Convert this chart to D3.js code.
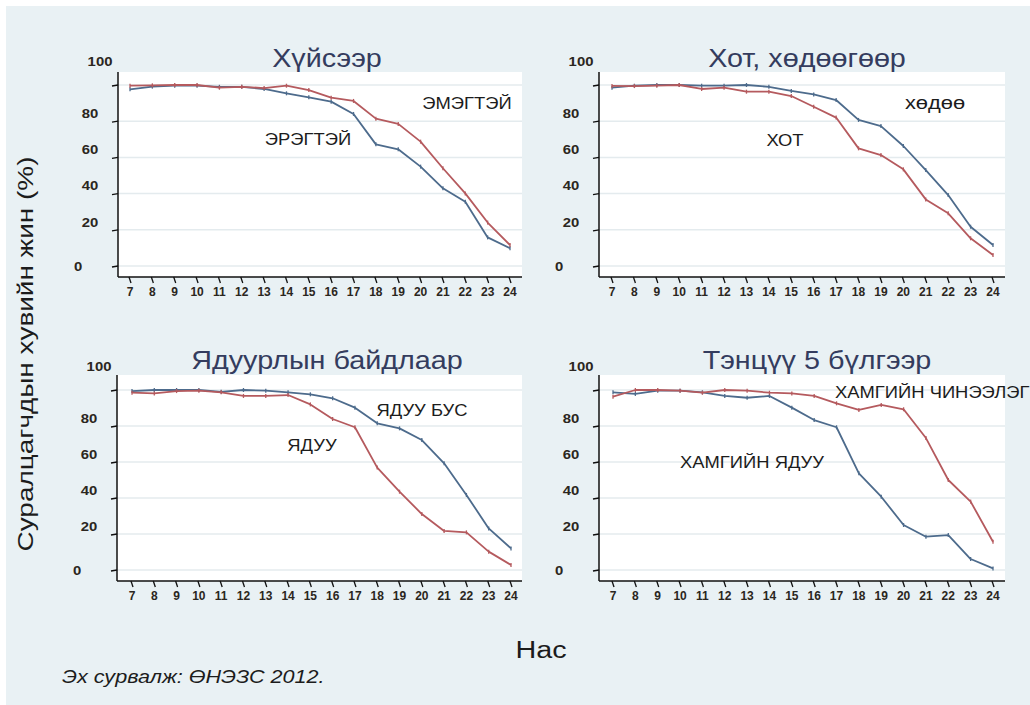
<!DOCTYPE html>
<html>
<head>
<meta charset="utf-8">
<script src="https://cdn.jsdelivr.net/npm/d3@7"></script>
<style>
  body { margin: 0; background: #fff; }
  svg { display: block; font-family: "Liberation Sans", Arial, sans-serif; }
</style>
</head>
<body>
<svg id="chart" width="1030" height="705"></svg>
<script>
const ages = [7, 8, 9, 10, 11, 12, 13, 14, 15, 16, 17, 18, 19, 20, 21, 22, 23, 24];
const yTicks = [0, 20, 40, 60, 80, 100];

const titles = ["Хүйсээр", "Хот, хөдөөгөөр", "Ядуурлын байдлаар", "Тэнцүү 5 бүлгээр"];

// sex
const male = [97.6, 99.1, 99.6, 99.6, 99, 99, 97.8, 95.4, 93.2, 90.8, 84, 67.2, 64.5, 54.9, 42.9, 35.5, 15.8, 9.8];
const female = [99.6, 99.8, 100, 100, 98.5, 99, 98.3, 99.6, 97.2, 93, 91.2, 81.4, 78.5, 68.7, 54, 40.1, 24, 11.6];
// urban / rural
const rural = [98.5, 99.6, 100, 100, 99.6, 99.6, 100, 99, 96.7, 94.8, 91.7, 80.7, 77.3, 66.3, 53, 39.2, 21.7, 11.6];
const urban = [99.5, 99.4, 99.6, 100, 97.8, 98.5, 96.3, 96.3, 93.9, 88, 82, 65, 61.3, 53.4, 36.8, 29.1, 15.3, 6.1];
// poverty
const nonPoor = [99.4, 100, 100, 100, 99, 100, 99.6, 98.7, 97.6, 95.4, 90.2, 81.5, 78.7, 72.2, 59.3, 41.7, 23.1, 12];
const poor = [98.5, 98.1, 99.4, 99.6, 98.7, 96.7, 96.7, 97.2, 92, 83.9, 79.3, 56.9, 43.5, 31.1, 21.7, 20.9, 10.2, 2.8];
// quintiles
const poorest = [98.7, 97.8, 99.6, 99.6, 98.7, 96.7, 95.7, 96.7, 90.2, 83.3, 79.3, 53.7, 40.7, 25, 18.5, 19.4, 6.1, 0.9];
const richest = [96.3, 100, 100, 99.6, 98.5, 100, 99.6, 98.5, 98.1, 96.7, 92.6, 88.9, 91.7, 89.3, 73.3, 50, 38, 15.7];

const seriesNames = [
  ["ЭРЭГТЭЙ", "ЭМЭГТЭЙ"],
  ["хөдөө", "ХОТ"],
  ["ЯДУУ БУС", "ЯДУУ"],
  ["ХАМГИЙН ЯДУУ", "ХАМГИЙН ЧИНЭЭЛЭГ"],
];
const seriesValues = [
  [male, female],
  [rural, urban],
  [nonPoor, poor],
  [poorest, richest],
];

const blue = "#4d6b8c";
const red = "#b55a5e";
const stretch = 1.15; // the source picture is a bit wider than tall

// layout of each panel (white plot box, x range for ages, y range for 0..100)
const panels = [
  { box: [118, 72, 522, 277], xr: [130, 510], yr: [266, 85], title: [327, 59],
    labels: [[308, 139, 16, "middle"], [467, 103, 16, "middle"]] },
  { box: [599, 72, 1005, 277], xr: [612, 993], yr: [266, 85], title: [807, 59],
    labels: [[935, 102, 19, "middle"], [785, 140, 16, "middle"]] },
  { box: [117, 375, 522, 581], xr: [132, 511], yr: [570, 390], title: [327, 361],
    labels: [[422, 410, 16, "middle"], [312, 445, 16, "middle"]] },
  { box: [599, 375, 1005, 581], xr: [613, 993], yr: [570, 390], title: [817, 361],
    labels: [[752, 462, 16, "middle"], [835, 392, 16, "start"]] },
];

const svg = d3.select("#chart");

const stretchedText = (sel, x, y, sx) =>
  sel.attr("transform", `translate(${x}, ${y}) scale(${sx}, 1)`);

svg.append("rect")
  .attr("x", 6).attr("y", 6)
  .attr("width", 1030).attr("height", 705)
  .attr("fill", "#e9f1f4");

panels.forEach((p, k) => {
  const [bx0, by0, bx1, by1] = p.box;
  const x = d3.scaleLinear().domain([7, 24]).range(p.xr);
  const y = d3.scaleLinear().domain([0, 100]).range(p.yr);
  const g = svg.append("g");

  // plot area
  g.append("rect")
    .attr("x", bx0).attr("y", by0)
    .attr("width", bx1 - bx0).attr("height", by1 - by0)
    .attr("fill", "#ffffff");

  // grid
  g.selectAll(".grid")
    .data(yTicks)
    .enter()
    .append("line")
    .attr("x1", bx0).attr("x2", bx1)
    .attr("y1", (d) => y(d)).attr("y2", (d) => y(d))
    .attr("stroke", "#e4ebee")
    .attr("stroke-width", 1.5);

  // y-axis
  g.append("line")
    .attr("x1", bx0).attr("x2", bx0)
    .attr("y1", by0).attr("y2", by1)
    .attr("stroke", "#111").attr("stroke-width", 1.5);

  g.selectAll(".ytick")
    .data(yTicks)
    .enter()
    .append("line")
    .attr("x1", bx0 - 6).attr("x2", bx0)
    .attr("y1", (d) => y(d) + 1).attr("y2", (d) => y(d))
    .attr("stroke", "#111").attr("stroke-width", 1.3);

  // labels sit above their gridlines in the source, except 0
  g.selectAll(".ylabel")
    .data(yTicks)
    .enter()
    .append("text")
    .each(function (d) {
      const lx = bx0 - (d === 100 ? 18 : d === 0 ? 40 : 28);
      const ly = y(d) + (d === 100 ? -24 : d === 0 ? 0 : -8);
      stretchedText(d3.select(this), lx, ly, 1.1);
    })
    .attr("text-anchor", "middle")
    .attr("dominant-baseline", "central")
    .style("font-size", "13.5px")
    .style("font-weight", 700)
    .attr("fill", "#2b2620")
    .text((d) => d);

  // x-axis
  g.append("line")
    .attr("x1", bx0).attr("x2", bx1)
    .attr("y1", by1).attr("y2", by1)
    .attr("stroke", "#111").attr("stroke-width", 1.5);

  g.selectAll(".xtick")
    .data(ages)
    .enter()
    .append("line")
    .attr("x1", (d) => x(d) - 1).attr("x2", (d) => x(d) + 1)
    .attr("y1", by1).attr("y2", by1 + 6)
    .attr("stroke", "#111").attr("stroke-width", 1.3);

  g.selectAll(".xlabel")
    .data(ages)
    .enter()
    .append("text")
    .attr("x", (d) => x(d))
    .attr("y", by1 + 15)
    .attr("text-anchor", "middle")
    .attr("dominant-baseline", "central")
    .style("font-size", "12px")
    .style("font-weight", 700)
    .attr("fill", "#2b2620")
    .text((d) => d);

  // lines
  const line = d3.line()
    .x((d, i) => x(ages[i]))
    .y((d) => y(d));

  seriesValues[k].forEach((vals, s) => {
    const color = s === 0 ? blue : red;
    g.append("path")
      .attr("fill", "none")
      .attr("stroke", color)
      .attr("stroke-width", 1.8)
      .attr("stroke-linejoin", "round")
      .attr("d", line(vals));

    g.selectAll(`.mark-${s}`)
      .data(vals)
      .enter()
      .append("line")
      .attr("x1", (d, i) => x(ages[i])).attr("x2", (d, i) => x(ages[i]))
      .attr("y1", (d) => y(d) - 2).attr("y2", (d) => y(d) + 2)
      .attr("stroke", color)
      .attr("stroke-width", 1.3);
  });

  // series labels
  seriesNames[k].forEach((name, s) => {
    const [lx, ly, fs, anchor] = p.labels[s];
    g.append("text")
      .call(stretchedText, lx, ly, stretch)
      .attr("text-anchor", anchor)
      .attr("dominant-baseline", "central")
      .style("font-size", fs + "px")
      .attr("fill", "#1c1c1c")
      .text(name);
  });

  // title
  g.append("text")
    .call(stretchedText, p.title[0], p.title[1], stretch)
    .attr("text-anchor", "middle")
    .attr("dominant-baseline", "central")
    .style("font-size", "25px")
    .attr("fill", "#343c5e")
    .text(titles[k]);
});

// y title
svg.append("text")
  .attr("transform", "translate(25, 354) rotate(-90) scale(1.27, 1)")
  .attr("text-anchor", "middle")
  .attr("dominant-baseline", "central")
  .style("font-size", "22px")
  .attr("fill", "#1c1c1c")
  .text("Суралцагчдын хувийн жин (%)");

// x title
svg.append("text")
  .call(stretchedText, 541, 650, 1.25)
  .attr("text-anchor", "middle")
  .attr("dominant-baseline", "central")
  .style("font-size", "23px")
  .attr("fill", "#1c1c1c")
  .text("Нас");

// source
svg.append("text")
  .call(stretchedText, 62, 677, 1.2)
  .attr("dominant-baseline", "central")
  .style("font-size", "18px")
  .style("font-style", "italic")
  .attr("fill", "#1c1c1c")
  .text("Эх сурвалж: ӨНЭЗС 2012.");
</script>
</body>
</html>
